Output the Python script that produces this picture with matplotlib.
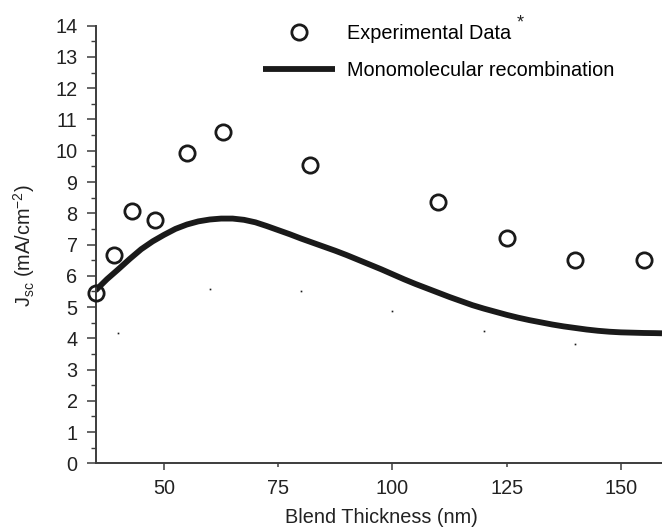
###########
# IMPORTS #
###########

import matplotlib
matplotlib.use('Agg')
import matplotlib.pyplot as plt
from matplotlib.ticker import MultipleLocator

########
# DATA #
########
# ---EXPERIMENTAL POINTS---#
thickness = [35, 39, 43, 48, 55, 63, 82, 110, 125, 140, 155]
jsc = [5.46, 6.66, 8.07, 7.79, 9.94, 10.61, 9.54, 8.37, 7.20, 6.51, 6.51]

# ---MONOMOLECULAR MODEL---#
modelX = [35, 37.5, 40, 42.5, 45, 47.5, 50, 52.5, 55, 57.5, 60, 62.5, 65,
          67.5, 70, 72.5, 75, 77.5, 80, 82.5, 85, 87.5, 90, 92.5, 95, 97.5,
          100, 102.5, 105, 107.5, 110, 112.5, 115, 117.5, 120, 122.5, 125,
          127.5, 130, 132.5, 135, 137.5, 140, 142.5, 145, 147.5, 150, 152.5,
          155, 157.5, 159]
modelY = [5.53, 5.89, 6.21, 6.54, 6.85, 7.10, 7.31, 7.50, 7.64, 7.74, 7.80,
          7.83, 7.83, 7.79, 7.71, 7.59, 7.46, 7.33, 7.19, 7.06, 6.93, 6.80,
          6.66, 6.51, 6.36, 6.21, 6.05, 5.89, 5.74, 5.60, 5.46, 5.32, 5.19,
          5.06, 4.95, 4.85, 4.75, 4.66, 4.58, 4.51, 4.44, 4.38, 4.33, 4.28,
          4.24, 4.21, 4.19, 4.18, 4.17, 4.165, 4.16]

# ---STRAY DOTS---#
dotX = [40, 60, 80, 100, 120, 140]
dotY = [4.16, 5.57, 5.51, 4.87, 4.23, 3.82]

xTicks = [50, 75, 100, 125, 150]
yTicks = list(range(0, 15))

############
# PLOTTING #
############
plt.rcParams['font.family'] = ['Liberation Sans', 'DejaVu Sans']
plt.rcParams['mathtext.fontset'] = 'custom'
plt.rcParams['mathtext.rm'] = 'Liberation Sans'
plt.rcParams['mathtext.it'] = 'Liberation Sans:italic'

ink = '#1a1a1a'
axisColor = '#3c3c3c'
textColor = '#222222'
fs = 14.3

f = plt.figure(figsize=(6.62, 5.28), dpi=100)
panel = f.add_axes([0.1450, 0.1225, 0.8550, 0.8288])

panel.plot(dotX, dotY, 's', color=ink, markersize=1.2, markeredgewidth=0)
model, = panel.plot(modelX, modelY, '-', color=ink, linewidth=4.2,
                    solid_capstyle='butt', solid_joinstyle='round',
                    label='Monomolecular recombination')
data, = panel.plot(thickness, jsc, 'o', markersize=11, markerfacecolor='none',
                   markeredgecolor=ink, markeredgewidth=2.0, clip_on=False,
                   zorder=5, label='Experimental Data')

panel.set_xlim(35.1, 159.0)
panel.set_ylim(0, 14)

# ---AXES---#
for side in ['top', 'right']:
    panel.spines[side].set_visible(False)
for side in ['left', 'bottom']:
    panel.spines[side].set_color(axisColor)
    panel.spines[side].set_linewidth(1.4)

panel.set_xticks(xTicks)
panel.set_yticks(yTicks)
panel.yaxis.set_minor_locator(MultipleLocator(0.5))
panel.tick_params(axis='both', which='major', direction='out', color=axisColor,
                  width=1.1, labelsize=fs, labelcolor=textColor)
panel.tick_params(axis='y', which='major', length=6.3, pad=7)
panel.tick_params(axis='y', which='minor', length=3.8, width=1.0, color=axisColor)
panel.tick_params(axis='x', which='major', length=5.2, pad=6)
# 75 and 125 have short ticks
for i, t in enumerate(panel.xaxis.get_major_ticks()):
    if xTicks[i] in (75, 125):
        t.tick1line.set_markersize(2.8)

f.text(381 / 662, (528 - 523.3) / 528, 'Blend Thickness (nm)', ha='center',
       va='baseline', fontsize=fs, color=textColor)
f.text(24 / 662, 0.535, r'J$_{\mathrm{sc}}$ (mA/cm$^{-2}$)', ha='center',
       va='center', rotation=90, fontsize=fs, color=textColor)

# ---LEGEND---#
leg = panel.legend(handles=[data, model], loc='upper left',
                   bbox_to_anchor=(263 / 662, 1 - 24 / 528),
                   bbox_transform=f.transFigure, frameon=False, fontsize=fs,
                   handlelength=3.6, handletextpad=0.65, labelspacing=0.9,
                   borderpad=0, borderaxespad=0)
# asterisk after the first legend entry
f.text(520 / 662, 1 - 23 / 528, '*', ha='center', va='center', fontsize=13,
       color=textColor)

plt.savefig('out.png', dpi=100)
